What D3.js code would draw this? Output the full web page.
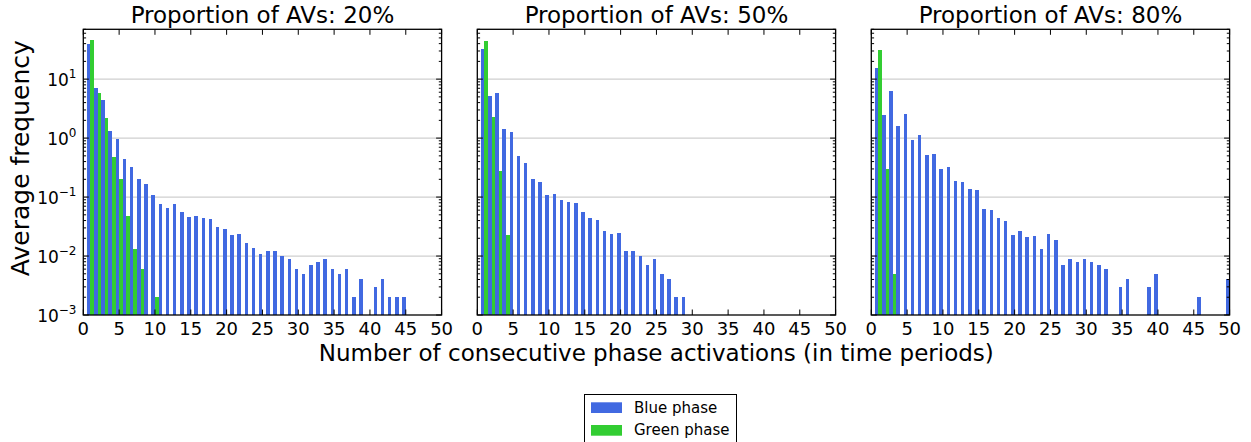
<!DOCTYPE html>
<html>
<head>
<meta charset="utf-8">
<script src="https://cdn.jsdelivr.net/npm/d3@7"></script>
<style>
  html, body { margin: 0; padding: 0; background: #ffffff; }
  svg { display: block; font-family: "DejaVu Sans", sans-serif; }
</style>
</head>
<body>
<svg id="chart" width="1251" height="442"></svg>
<script>
// Run lengths (number of consecutive activations) on the x axis
const runLengths = d3.range(1, 51);

// Panel titles
const panelTitles = ["Proportion of AVs: 20%", "Proportion of AVs: 50%", "Proportion of AVs: 80%"];

// Average frequency per run length, blue phase (null = no occurrence)
const blue20 = [40, 7.2, 4.5, 1.30, 0.95, 0.45, 0.32, 0.20, 0.165, 0.107,
  0.0755, 0.0646, 0.0755, 0.0553, 0.0455, 0.047, 0.0447, 0.043, 0.0314, 0.029,
  0.023, 0.0239, 0.0168, 0.0138, 0.011, 0.0123, 0.0123, 0.0101, 0.009, 0.006,
  0.005, 0.007, 0.008, 0.009, 0.006, 0.005, 0.006, 0.002, 0.004, null,
  0.003, 0.004, 0.002, 0.002, 0.002];
const blue50 = [33.0, 5.27, 5.93, 1.40, 1.25, 0.49, 0.375, 0.20, 0.178, 0.108,
  0.112, 0.089, 0.082, 0.079, 0.056, 0.0445, 0.041, 0.0268, 0.0239, 0.0249,
  0.0123, 0.0123, 0.0101, 0.0071, 0.009, 0.005, 0.004, 0.002, 0.002];
const blue80 = [15.7, 2.42, 6.17, 1.58, 2.52, 0.914, 1.11, 0.515, 0.535, 0.297,
  0.325, 0.187, 0.179, 0.137, 0.132, 0.063, 0.060, 0.0443, 0.0397, 0.023,
  0.0268, 0.0213, 0.0221, 0.0133, 0.0239, 0.0189, 0.0071, 0.009, 0.008, 0.009,
  0.008, 0.0071, 0.0061, null, 0.003, 0.004, null, null, 0.003, 0.005,
  null, null, null, null, null, 0.002, null, null, null, 0.004];

// Average frequency per run length, green phase
const green20 = [46.8, 5.9, 2.15, 0.47, 0.20, 0.047, 0.013, 0.006, null, 0.002];
const green50 = [45, 2.24, 0.275, 0.0228];
const green80 = [31.7, 0.295, 0.005];

// Axis ticks
const xTicks = d3.range(0, 51, 5);
const yTicks = [1e-3, 1e-2, 1e-1, 1e0, 1e1];
const yExponents = ["\u22123", "\u22122", "\u22121", "0", "1"];

const seriesNames = ["Blue phase", "Green phase"];
const colors = { blue: "#4169e1", green: "#32cd32" };

const panels = [
  { title: panelTitles[0], blue: blue20, green: green20 },
  { title: panelTitles[1], blue: blue50, green: green50 },
  { title: panelTitles[2], blue: blue80, green: green80 }
];

const svg = d3.select("#chart");

const plotTop = 29.3, plotBottom = 315;
const firstLeft = 83.3, panelW = 358.3, gapW = 35.7;

const y = d3.scaleLog().domain([1e-3, 70]).range([plotBottom, plotTop]);

panels.forEach((p, i) => {
  const left = firstLeft + i * (panelW + gapW);
  const x = d3.scaleLinear().domain([0, 50]).range([left, left + panelW]);
  const g = svg.append("g");

  // horizontal grid at each decade
  g.selectAll("line.grid").data(yTicks.slice(1)).join("line")
    .attr("x1", left).attr("x2", left + panelW)
    .attr("y1", d => y(d)).attr("y2", d => y(d))
    .attr("stroke", "#cfcfcf").attr("stroke-width", 1.3);

  const clipId = "clip" + i;
  svg.append("clipPath").attr("id", clipId).append("rect")
    .attr("x", left).attr("y", plotTop).attr("width", panelW).attr("height", plotBottom - plotTop);

  const bars = g.append("g").attr("clip-path", `url(#${clipId})`).attr("shape-rendering", "crispEdges");
  const blueData = runLengths.map((k, j) => ({ k, v: p.blue[j] })).filter(d => d.v != null);
  const greenData = runLengths.map((k, j) => ({ k, v: p.green[j] })).filter(d => d.v != null);

  bars.selectAll("rect.blue").data(blueData).join("rect")
    .attr("x", d => x(d.k - 0.5)).attr("width", d => x(d.k) - x(d.k - 0.5))
    .attr("y", d => y(d.v)).attr("height", d => plotBottom - y(d.v))
    .attr("fill", colors.blue);
  bars.selectAll("rect.green").data(greenData).join("rect")
    .attr("x", d => x(d.k)).attr("width", d => x(d.k + 0.5) - x(d.k))
    .attr("y", d => y(d.v)).attr("height", d => plotBottom - y(d.v))
    .attr("fill", colors.green);

  // inward ticks on all four sides
  const tickG = g.append("g").attr("stroke", "#000").attr("stroke-width", 1);
  xTicks.forEach(t => {
    tickG.append("line").attr("x1", x(t)).attr("x2", x(t)).attr("y1", plotBottom).attr("y2", plotBottom - 5.5);
    tickG.append("line").attr("x1", x(t)).attr("x2", x(t)).attr("y1", plotTop).attr("y2", plotTop + 5.5);
  });
  const minor = [];
  for (let e = -3; e <= 1; e++) for (let m = 2; m <= 9; m++) {
    const v = m * Math.pow(10, e);
    if (v <= 70) minor.push(v);
  }
  yTicks.forEach(t => {
    tickG.append("line").attr("x1", left).attr("x2", left + 5.5).attr("y1", y(t)).attr("y2", y(t));
    tickG.append("line").attr("x1", left + panelW).attr("x2", left + panelW - 5.5).attr("y1", y(t)).attr("y2", y(t));
  });
  minor.forEach(t => {
    tickG.append("line").attr("x1", left).attr("x2", left + 2.8).attr("y1", y(t)).attr("y2", y(t));
    tickG.append("line").attr("x1", left + panelW).attr("x2", left + panelW - 2.8).attr("y1", y(t)).attr("y2", y(t));
  });

  // frame
  g.append("rect").attr("x", left).attr("y", plotTop).attr("width", panelW).attr("height", plotBottom - plotTop)
    .attr("fill", "none").attr("stroke", "#000").attr("stroke-width", 1.3);

  // x tick labels
  g.selectAll("text.xt").data(xTicks).join("text")
    .attr("x", d => x(d)).attr("y", 335)
    .attr("text-anchor", "middle").attr("font-size", 18).attr("fill", "#000")
    .text(d => d);

  // y tick labels (first panel only)
  if (i === 0) {
    yTicks.forEach((t, j) => {
      const tx = g.append("text").attr("x", 76.5).attr("y", y(t) + 7)
        .attr("text-anchor", "end").attr("font-size", 17).attr("fill", "#000");
      tx.append("tspan").text("10");
      tx.append("tspan").attr("dy", -8).attr("font-size", 12).text(yExponents[j]);
    });
  }

  // title
  g.append("text").attr("x", left + panelW / 2).attr("y", 22.7)
    .attr("text-anchor", "middle").attr("font-size", 23).attr("fill", "#000")
    .text(p.title);
});

// shared axis labels
svg.append("text").attr("x", 656.3).attr("y", 361)
  .attr("text-anchor", "middle").attr("font-size", 23).attr("fill", "#000")
  .text("Number of consecutive phase activations (in time periods)");
svg.append("text").attr("transform", `translate(29,${(plotTop + plotBottom) / 2 - 14}) rotate(-90)`)
  .attr("text-anchor", "middle").attr("font-size", 25).attr("fill", "#000")
  .text("Average frequency");

// legend
const lg = svg.append("g");
lg.append("rect").attr("x", 584.5).attr("y", 394.5).attr("width", 152).attr("height", 52)
  .attr("fill", "#fff").attr("stroke", "#000").attr("stroke-width", 1);
[colors.blue, colors.green].forEach((c, j) => {
  lg.append("rect").attr("x", 591).attr("y", 402.3 + j * 22.7).attr("width", 31).attr("height", 10.7).attr("fill", c);
  lg.append("text").attr("x", 634).attr("y", 412.7 + j * 22.7).attr("font-size", 15).attr("fill", "#000").text(seriesNames[j]);
});
</script>
</body>
</html>
